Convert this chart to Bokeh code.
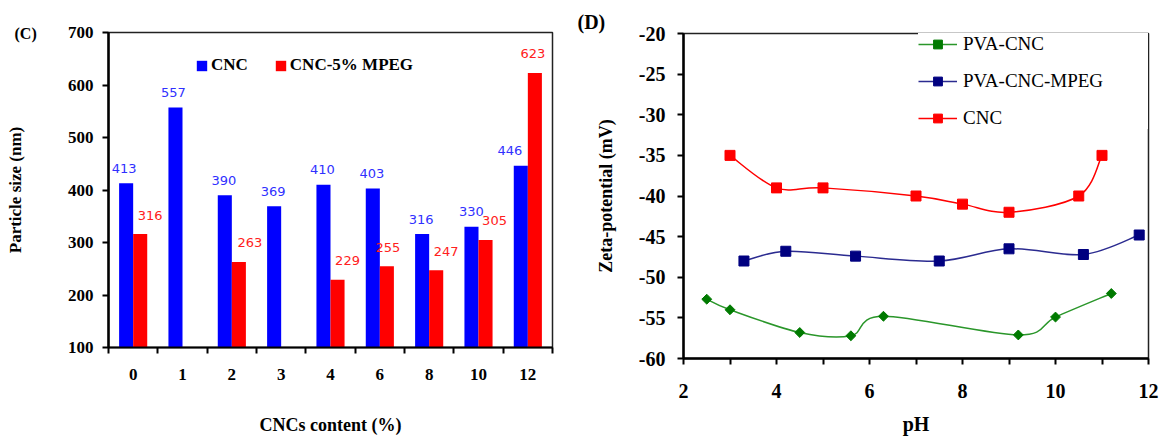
from bokeh.plotting import figure
from bokeh.models import (Range1d, FixedTicker, Legend, LegendItem, Title,
                          ColumnDataSource)
from bokeh.transform import dodge
from bokeh.embed import file_html
from bokeh.resources import INLINE

# ---- (C) particle size by CNC content ----
categories = ["0", "1", "2", "3", "4", "6", "8", "10", "12"]
cnc_size = [413, 557, 390, 369, 410, 403, 316, 330, 446]
mpeg_size = [316, None, 263, None, 229, 255, 247, 305, 623]
size_ticks = [100, 200, 300, 400, 500, 600, 700]

# ---- (D) zeta potential vs pH ----
ph_pva = [2.5, 3.0, 4.5, 5.6, 6.3, 9.2, 10.0, 11.2]
zeta_pva = [-52.7, -54.0, -56.8, -57.2, -54.8, -57.1, -54.9, -52.0]
ph_mpeg = [3.3, 4.2, 5.7, 7.5, 9.0, 10.6, 11.8]
zeta_mpeg = [-48.0, -46.8, -47.4, -48.0, -46.5, -47.2, -44.8]
ph_cnc = [3.0, 4.0, 5.0, 7.0, 8.0, 9.0, 10.5, 11.0]
zeta_cnc = [-35.0, -39.0, -39.0, -40.0, -41.0, -42.0, -40.0, -35.0]
zeta_ticks = [-60, -55, -50, -45, -40, -35, -30, -25, -20]
ph_ticks = [2, 4, 6, 8, 10, 12]
ph_minor = [3, 5, 7, 9, 11]

SERIF = "Liberation Serif"
BLUE = "#0000ff"
RED = "#ff0000"

# nudges of the value labels (pixels)
blue_label_dx = [-2, -2, -1, -1, -1, -1, -1, 0, -11]
red_label_dx = [10, 0, 11, 0, 10, 1, 10, 9, -2]

pos = list(range(1, len(categories) + 1))
edges = [p - 0.5 for p in pos] + [pos[-1] + 0.5]
bar_w = 0.285

src_cnc = ColumnDataSource(dict(x=pos, top=cnc_size,
                                txt=[str(v) for v in cnc_size],
                                dx=blue_label_dx))
keep = [i for i, v in enumerate(mpeg_size) if v is not None]
src_mpeg = ColumnDataSource(dict(x=[pos[i] for i in keep],
                                 top=[mpeg_size[i] for i in keep],
                                 txt=[str(mpeg_size[i]) for i in keep],
                                 dx=[red_label_dx[i] for i in keep]))


def style_axis(ax, tick_size, label_size):
    ax.major_label_text_font = SERIF
    ax.major_label_text_font_style = "bold"
    ax.major_label_text_font_size = tick_size
    ax.major_label_text_line_height = 1.0
    ax.axis_label_text_font = SERIF
    ax.axis_label_text_font_style = "bold"
    ax.axis_label_text_font_size = label_size
    ax.axis_label_text_line_height = 1.0
    ax.axis_label_text_color = "black"
    ax.major_label_text_color = "black"
    ax.axis_line_color = "black"
    ax.major_tick_line_color = "black"
    ax.minor_tick_line_color = "black"


def smooth_segments(xs, ys):
    """Cubic Bezier pieces through the points (Catmull-Rom style smoothing)."""
    n = len(xs)
    seg = dict(x0=[], y0=[], x1=[], y1=[], cx0=[], cy0=[], cx1=[], cy1=[])
    for i in range(n - 1):
        xp, yp = (xs[i - 1], ys[i - 1]) if i > 0 else (xs[i], ys[i])
        xn, yn = (xs[i + 2], ys[i + 2]) if i + 2 < n else (xs[i + 1], ys[i + 1])
        seg["x0"].append(xs[i]); seg["y0"].append(ys[i])
        seg["x1"].append(xs[i + 1]); seg["y1"].append(ys[i + 1])
        seg["cx0"].append(xs[i] + (xs[i + 1] - xp) / 6)
        seg["cy0"].append(ys[i] + (ys[i + 1] - yp) / 6)
        seg["cx1"].append(xs[i + 1] - (xn - xs[i]) / 6)
        seg["cy1"].append(ys[i + 1] - (yn - ys[i]) / 6)
    return ColumnDataSource(seg)


p1 = figure(width=570, height=437, output_backend="svg", toolbar_location=None,
            x_range=Range1d(0.5, len(categories) + 0.5),
            y_range=Range1d(size_ticks[0], size_ticks[-1]),
            min_border_left=108, min_border_right=18,
            min_border_top=32, min_border_bottom=89)
p1.xgrid.visible = False
p1.ygrid.visible = False
p1.outline_line_color = "#222222"
p1.outline_line_width = 1.5

r_cnc = p1.vbar(x=dodge("x", -bar_w / 2, range=p1.x_range), top="top",
                bottom=size_ticks[0], width=bar_w, fill_color=BLUE,
                line_color=None, source=src_cnc)
r_mpeg = p1.vbar(x=dodge("x", bar_w / 2, range=p1.x_range), top="top",
                 bottom=size_ticks[0], width=bar_w, fill_color=RED,
                 line_color=None, source=src_mpeg)

p1.text(x=dodge("x", -bar_w / 2, range=p1.x_range), y="top", text="txt",
        source=src_cnc, text_align="center", text_baseline="middle",
        y_offset=-15, x_offset="dx", text_font_size="13px",
        text_font={"value": "DejaVu Sans"}, text_color="#3030ff")
p1.text(x=dodge("x", bar_w / 2, range=p1.x_range), y="top", text="txt",
        source=src_mpeg, text_align="center", text_baseline="middle",
        y_offset=-19, x_offset="dx", text_font_size="13px",
        text_font={"value": "DejaVu Sans"}, text_color="#ff2020")

leg1 = Legend(items=[LegendItem(label="CNC", renderers=[r_cnc]),
                     LegendItem(label="CNC-5% MPEG", renderers=[r_mpeg])],
              orientation="horizontal", location=(87, 272),
              glyph_width=13, glyph_height=13, label_height=17,
              label_standoff=3, spacing=26, padding=0,
              border_line_color=None, background_fill_alpha=0,
              label_text_font=SERIF, label_text_font_style="bold",
              label_text_font_size="17px", label_text_color="black")
p1.add_layout(leg1)

xa = p1.xaxis[0]
style_axis(xa, "17px", "18px")
xa.ticker = FixedTicker(ticks=pos, minor_ticks=edges)
xa.major_label_overrides = {p: c for p, c in zip(pos, categories)}
xa.major_tick_out = 0
xa.major_tick_in = 0
xa.minor_tick_out = 6
xa.minor_tick_in = 0
xa.minor_tick_line_width = 2
xa.axis_line_width = 2
xa.major_label_standoff = 15
xa.axis_label = "CNCs content (%)"
xa.axis_label_standoff = 32

ya = p1.yaxis[0]
style_axis(ya, "17px", "17px")
ya.ticker = FixedTicker(ticks=size_ticks)
ya.major_tick_out = 6
ya.major_tick_in = 0
ya.minor_tick_out = 0
ya.minor_tick_in = 0
ya.major_tick_line_width = 2
ya.axis_line_width = 2.5
ya.major_label_standoff = 9
ya.axis_label = "Particle size (nm)"
ya.axis_label_standoff = 40

p1.add_layout(Title(text="(C)", align="left", offset=-94, standoff=-19,
                    text_font=SERIF, text_font_style="bold",
                    text_font_size="16px", text_color="black"), "above")

# ---- (D) ----
p2 = figure(width=592, height=437, output_backend="svg", toolbar_location=None,
            x_range=Range1d(ph_ticks[0], ph_ticks[-1]),
            y_range=Range1d(zeta_ticks[0], zeta_ticks[-1]),
            min_border_left=113, min_border_right=14,
            min_border_top=33, min_border_bottom=79)
p2.xgrid.visible = False
p2.ygrid.visible = False
p2.outline_line_color = "#222222"
p2.outline_line_width = 1.5

series = [
    ("PVA-CNC", ph_pva, zeta_pva, "#2a962a", "#007a00", dict(marker="square", angle=0.785398, size=7)),
    ("PVA-CNC-MPEG", ph_mpeg, zeta_mpeg, "#2b2b90", "#000080", dict(marker="square", size=10)),
    ("CNC", ph_cnc, zeta_cnc, RED, RED, dict(marker="square", size=10)),
]
items = []
for name, xs, ys, line_col, mark_col, mk in series:
    rl = p2.bezier(x0="x0", y0="y0", x1="x1", y1="y1", cx0="cx0", cy0="cy0",
                   cx1="cx1", cy1="cy1", source=smooth_segments(xs, ys),
                   line_color=line_col, line_width=1.5)
    rm = p2.scatter(xs, ys, fill_color=mark_col, line_color=mark_col, **mk)
    items.append(LegendItem(label=name, renderers=[rl, rm]))

leg2 = Legend(items=items, location=(235, 229), padding=0, glyph_width=39,
              glyph_height=22, label_height=22, spacing=15,
              label_standoff=6, label_width=190, border_line_color=None,
              background_fill_color="white", background_fill_alpha=1,
              label_text_font=SERIF, label_text_font_size="19px",
              label_text_line_height=1.0, label_text_color="black")
p2.add_layout(leg2)

xb = p2.xaxis[0]
style_axis(xb, "20px", "20px")
xb.ticker = FixedTicker(ticks=ph_ticks, minor_ticks=ph_minor)
xb.major_tick_out = 6
xb.major_tick_in = 0
xb.minor_tick_out = 6
xb.minor_tick_in = 0
xb.major_tick_line_width = 2
xb.minor_tick_line_width = 2
xb.axis_line_width = 2.5
xb.major_label_standoff = 19
xb.axis_label = "pH"
xb.axis_label_standoff = 12

yb = p2.yaxis[0]
style_axis(yb, "20px", "18px")
yb.ticker = FixedTicker(ticks=zeta_ticks)
yb.major_label_overrides = {t: str(t) for t in zeta_ticks}
yb.major_tick_out = 6
yb.major_tick_in = 0
yb.minor_tick_out = 0
yb.minor_tick_in = 0
yb.major_tick_line_width = 2
yb.axis_line_width = 2.5
yb.major_label_standoff = 12
yb.axis_label = "Zeta-potential (mV)"
yb.axis_label_standoff = 20

p2.add_layout(Title(text="(D)", align="left", offset=-106, standoff=2,
                    text_font=SERIF, text_font_style="bold",
                    text_font_size="20px", text_color="black"), "above")

# the two panels are independent roots placed side by side, so each keeps
# its own frame borders
page_template = """
{% block postamble %}
<style>
  body { display: flex !important; flex-direction: row; align-items: flex-start; }
</style>
{% endblock %}
"""
open("out.html", "w").write(file_html([p1, p2], INLINE, template=page_template))
